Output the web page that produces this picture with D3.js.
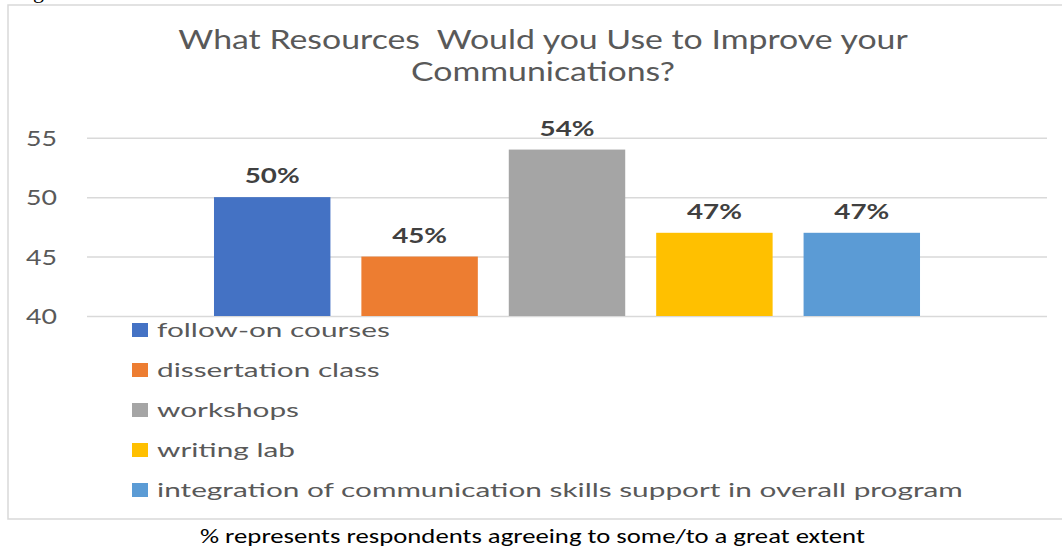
<!DOCTYPE html>
<html>
<head>
<meta charset="utf-8">
<script src="https://cdn.jsdelivr.net/npm/d3@7"></script>
<style>
  html, body { margin: 0; padding: 0; background: #fff; }
  svg { display: block; }
</style>
</head>
<body>
<svg id="chart" width="1062" height="550"></svg>
<script>
// Survey results: share of respondents who would use each resource
const series = [
  "follow-on courses",
  "dissertation class",
  "workshops",
  "writing lab",
  "integration of communication skills support in overall program"
];
const values = [50, 45, 54, 47, 47];
const valueLabels = ["50%", "45%", "54%", "47%", "47%"];
const colors = ["#4472C4", "#ED7D31", "#A5A5A5", "#FFC000", "#5B9BD5"];
const yTicks = [40, 45, 50, 55];
const titleLines = ["What Resources  Would you Use to Improve your", "Communications?"];
const caption = "% represents respondents agreeing to some/to a great extent";

const svg = d3.select("#chart");
const FONT = "Lato, 'Open Sans', sans-serif";
const TEXT_GREY = "#595959";

// Horizontally stretch a text element so its rendered width equals `target`.
function fitWidth(sel, target) {
  sel.each(function () {
    const node = this;
    const w = node.getComputedTextLength();
    const x = +node.getAttribute("x") || 0;
    const y = +node.getAttribute("y") || 0;
    const sx = target / w;
    node.setAttribute("x", 0);
    node.setAttribute("y", 0);
    node.setAttribute("transform", `translate(${x},${y}) scale(${sx},1)`);
  });
  return sel;
}
function stretch(sel, sx) {
  sel.each(function () {
    const x = +this.getAttribute("x") || 0;
    const y = +this.getAttribute("y") || 0;
    this.setAttribute("x", 0);
    this.setAttribute("y", 0);
    this.setAttribute("transform", `translate(${x},${y}) scale(${sx},1)`);
  });
  return sel;
}

// Fragment of the preceding document line
svg.append("text")
  .attr("x", 33).attr("y", -2)
  .attr("font-family", "'Liberation Serif', serif")
  .attr("font-size", 22)
  .attr("fill", "#000")
  .text("g");

// Chart frame
svg.append("rect")
  .attr("x", 8).attr("y", 5)
  .attr("width", 1070).attr("height", 514)
  .attr("fill", "#fff")
  .attr("stroke", "#d9d9d9")
  .attr("stroke-width", 1.5);

// Scales
const plot = { left: 87, right: 1047, top: 137.7, bottom: 316 };
const y = d3.scaleLinear().domain([40, 55]).range([plot.bottom, plot.top]);
const group = d3.scaleBand().domain(["all"]).range([plot.left, plot.right]).paddingOuter(0.1513);
const x = d3.scaleBand().domain(series)
  .range([group("all"), group("all") + group.bandwidth()])
  .paddingInner(0.21).paddingOuter(0.105);

// Gridlines
const yAxis = d3.axisLeft(y).tickValues(yTicks)
  .tickSize(-(plot.right - plot.left)).tickPadding(30).tickFormat(d3.format("d"));
const gy = svg.append("g").attr("transform", `translate(${plot.left},0)`).call(yAxis);
gy.select(".domain").remove();
gy.selectAll(".tick line").attr("stroke", "#d9d9d9").attr("stroke-width", 1.5);
gy.selectAll(".tick text")
  .attr("font-family", FONT).attr("font-size", 21).attr("fill", TEXT_GREY)
  .attr("dy", "0.36em");
// Stretch tick labels to their drawn width
gy.selectAll(".tick text").each(function () {
  const w = this.getComputedTextLength();
  const sx = 31 / w;
  this.setAttribute("transform", `scale(${sx},1)`);
  this.setAttribute("x", -30 / sx);
});

// Bars
svg.append("g").selectAll("rect")
  .data(series)
  .join("rect")
  .attr("x", d => x(d))
  .attr("width", x.bandwidth())
  .attr("y", (d, i) => y(values[i]))
  .attr("height", (d, i) => y(40) - y(values[i]))
  .attr("fill", (d, i) => colors[i]);

// Value labels
const labels = svg.append("g").selectAll("text")
  .data(series)
  .join("text")
  .attr("x", d => x(d) + x.bandwidth() / 2)
  .attr("y", (d, i) => y(values[i]) - 14)
  .attr("text-anchor", "middle")
  .attr("font-family", FONT)
  .attr("font-weight", "bold")
  .attr("font-size", 20)
  .attr("fill", "#404040")
  .text((d, i) => valueLabels[i]);
const labelSx = 55 / labels.nodes()[3].getComputedTextLength();
stretch(labels, labelSx);

// Title
const titleSel = svg.append("g").selectAll("text")
  .data(titleLines)
  .join("text")
  .attr("x", 543)
  .attr("y", (d, i) => 49 + i * 32)
  .attr("text-anchor", "middle")
  .attr("font-family", FONT)
  .attr("font-size", 26)
  .attr("fill", TEXT_GREY)
  .attr("xml:space", "preserve")
  .style("white-space", "pre")
  .text(d => d);
const titleSx = 730 / titleSel.nodes()[0].getComputedTextLength();
stretch(titleSel, titleSx);

// Legend
const legend = svg.append("g");
const rows = legend.selectAll("g")
  .data(series)
  .join("g")
  .attr("transform", (d, i) => `translate(0,${330 + i * 40})`);
rows.append("rect")
  .attr("x", 132).attr("y", -7)
  .attr("width", 16).attr("height", 14)
  .attr("fill", (d, i) => colors[i]);
const legendText = rows.append("text")
  .attr("x", 157).attr("y", 7)
  .attr("font-family", FONT)
  .attr("font-size", 20)
  .attr("fill", TEXT_GREY)
  .text(d => d);
const legendSx = 806 / legendText.nodes()[4].getComputedTextLength();
stretch(legendText, legendSx);

// Caption beneath the chart
const cap = svg.append("text")
  .attr("x", 200).attr("y", 543)
  .attr("font-family", "Carlito, Lato, 'Open Sans', sans-serif")
  .attr("font-size", 21)
  .attr("fill", "#000")
  .text(caption);
fitWidth(cap, 665);
</script>
</body>
</html>
